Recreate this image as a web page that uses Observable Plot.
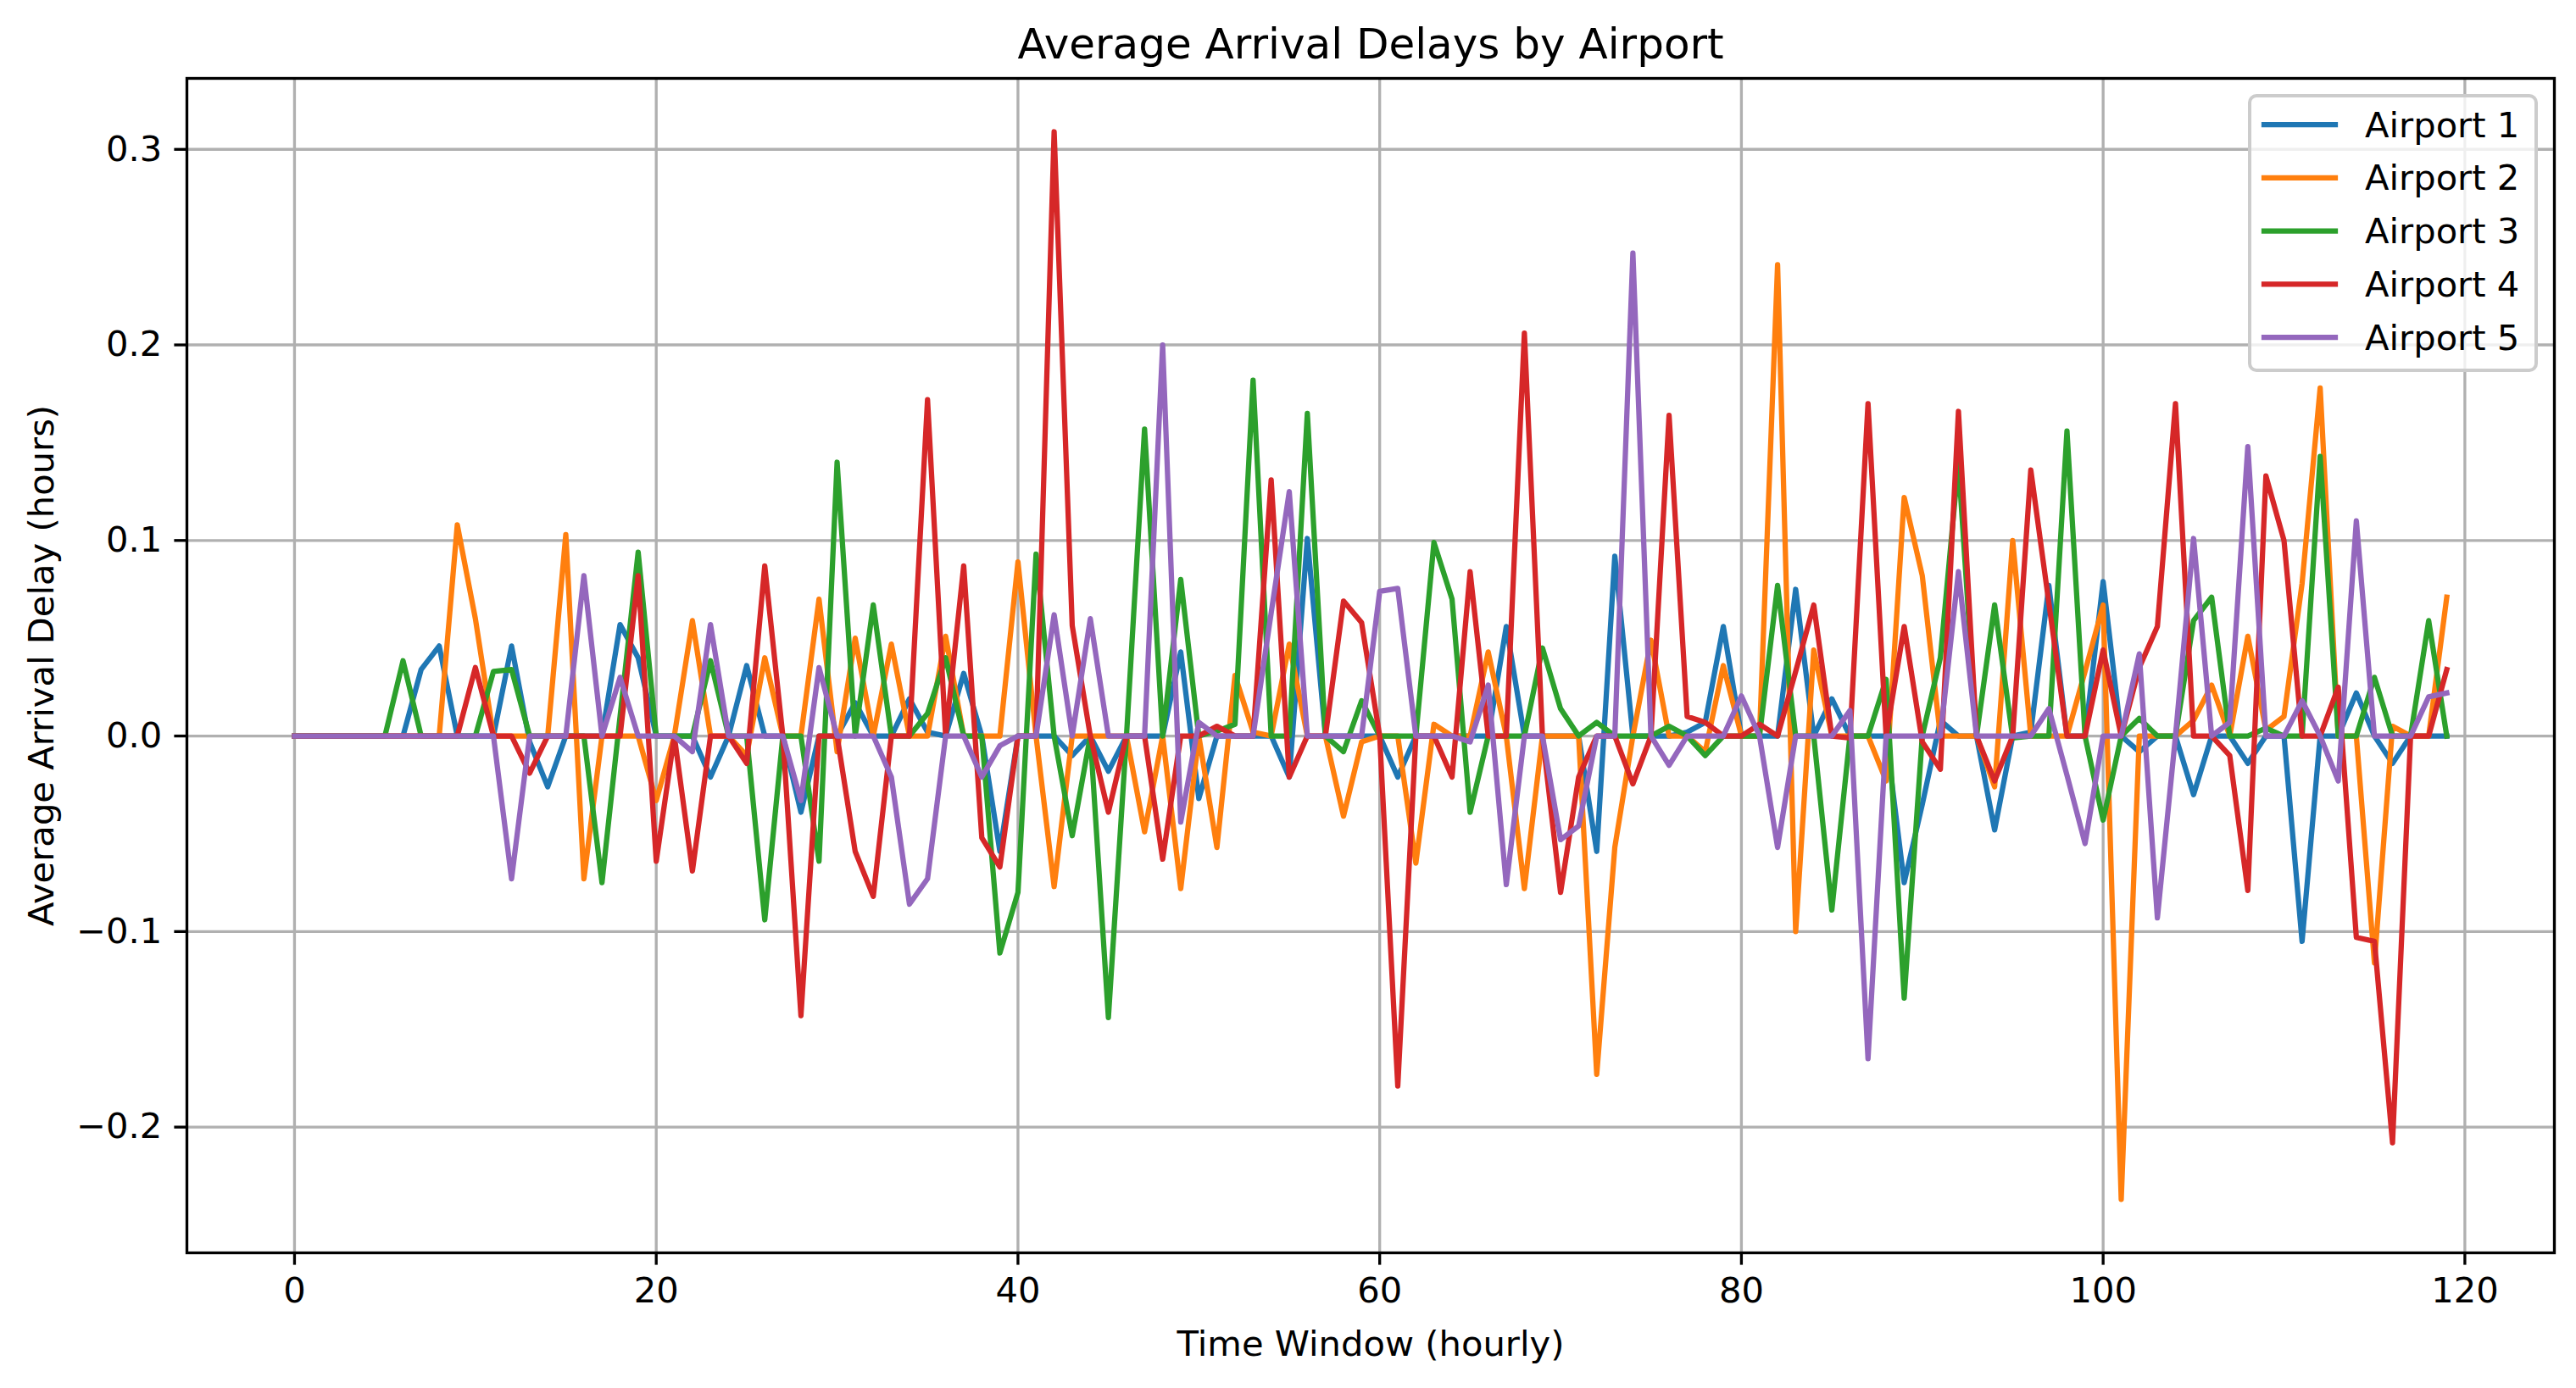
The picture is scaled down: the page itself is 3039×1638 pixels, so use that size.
<!DOCTYPE html>
<html>
<head>
<meta charset="utf-8">
<script src="https://cdn.jsdelivr.net/npm/d3@7"></script>
<script src="https://cdn.jsdelivr.net/npm/@observablehq/plot@0.6"></script>
<style>
  html, body { margin: 0; padding: 0; background: white; }
  #chart svg { display: block; }
</style>
</head>
<body>
<div id="chart"></div>
<script>
// Hourly time windows 0..119
const hours = d3.range(120);

const airportNames = ["Airport 1", "Airport 2", "Airport 3", "Airport 4", "Airport 5"];
const airportColors = ["#1f77b4", "#ff7f0e", "#2ca02c", "#d62728", "#9467bd"];

// Average arrival delay (hours) per time window
const airport1 = [
  0, 0, 0, 0, 0, 0, 0, 0.034, 0.046, 0,
  0, 0, 0.046, -0.003, -0.026, 0, 0, 0, 0.057, 0.040,
  0, 0, 0, -0.021, 0, 0.036, 0, 0, -0.039, 0,
  0, 0.017, 0, 0, 0.019, 0.002, 0, 0.032, 0, -0.059,
  0, 0, 0, -0.010, 0, -0.018, 0, 0, 0, 0.043,
  -0.032, 0, 0, 0, 0, -0.021, 0.101, 0, 0, 0,
  0, -0.021, 0, 0, 0, 0, 0, 0.056, 0, 0,
  0, 0, -0.059, 0.092, 0, 0, 0, 0.002, 0.007, 0.056,
  0, 0, 0, 0.075, 0, 0.019, 0, 0, 0, -0.075,
  -0.035, 0.008, 0, 0, -0.048, 0, 0.002, 0.077, 0, 0,
  0.079, 0, -0.008, 0, 0, -0.030, 0, 0, -0.014, 0,
  0, -0.105, 0, 0, 0.022, 0, -0.014, 0, 0, 0
];
const airport2 = [
  0, 0, 0, 0, 0, 0, 0, 0, 0, 0.108,
  0.060, 0, 0, 0, 0, 0.103, -0.073, 0, 0, 0,
  -0.033, 0, 0.059, 0, 0, -0.010, 0.040, 0, 0, 0.070,
  -0.008, 0.050, 0, 0.047, 0, 0, 0.051, 0, 0, 0,
  0.089, 0, -0.077, 0, 0, 0, 0, -0.049, 0, -0.078,
  0, -0.057, 0.031, 0.002, 0, 0.047, 0, 0, -0.041, -0.003,
  0, 0, -0.065, 0.006, 0, 0, 0.043, 0, -0.078, 0,
  0, 0, -0.173, -0.057, 0, 0.049, 0, 0, -0.008, 0.036,
  0, 0, 0.241, -0.100, 0.044, 0, 0, 0, -0.023, 0.122,
  0.082, 0, 0, 0, -0.026, 0.100, 0, 0, 0, 0.033,
  0.067, -0.237, 0, 0, 0, 0.008, 0.026, 0, 0.051, 0.003,
  0.010, 0.078, 0.178, 0, 0, -0.116, 0.005, 0, 0, 0.071
];
const airport3 = [
  0, 0, 0, 0, 0, 0, 0.0385, 0, 0, 0,
  0, 0.033, 0.034, 0, 0, 0, 0, -0.075, 0.010, 0.094,
  0, 0, 0, 0.0385, 0, 0, -0.094, 0, 0, -0.064,
  0.140, 0, 0.067, 0, 0, 0.0115, 0.040, 0, 0, -0.111,
  -0.080, 0.093, 0, -0.051, 0, -0.144, 0, 0.157, 0, 0.080,
  0, 0.0025, 0.006, 0.182, 0, 0, 0.165, 0, -0.008, 0.018,
  0, 0, 0, 0.099, 0.070, -0.039, 0, 0, 0, 0.045,
  0.014, 0, 0.007, 0, 0, 0, 0.005, 0, -0.010, 0,
  0, 0, 0.077, 0, 0, -0.089, 0, 0, 0.029, -0.134,
  0, 0.040, 0.140, 0, 0.067, -0.001, 0, 0, 0.156, 0,
  -0.043, 0, 0.009, 0, 0, 0.059, 0.071, 0, 0, 0.004,
  0, 0, 0.143, 0, 0, 0.030, 0, 0, 0.059, 0
];
const airport4 = [
  0, 0, 0, 0, 0, 0, 0, 0, 0, 0,
  0.035, 0, 0, -0.019, 0, 0, 0, 0, 0, 0.082,
  -0.064, 0, -0.069, 0, 0, -0.014, 0.087, 0, -0.143, 0,
  0, -0.059, -0.082, 0, 0, 0.172, 0, 0.087, -0.052, -0.067,
  0, 0, 0.309, 0.0565, 0, -0.039, 0, 0, -0.063, 0,
  0, 0.005, 0, 0, 0.131, -0.021, 0, 0, 0.069, 0.058,
  0, -0.179, 0, 0, -0.021, 0.084, 0, 0, 0.206, 0,
  -0.080, -0.021, 0, 0, -0.0245, 0, 0.164, 0.010, 0.007, 0,
  0, 0.006, 0, 0.033, 0.067, 0, -0.001, 0.170, 0, 0.056,
  -0.003, -0.017, 0.166, 0, -0.023, 0, 0.136, 0.068, 0, 0,
  0.044, 0, 0.035, 0.056, 0.170, 0, 0, -0.010, -0.079, 0.133,
  0.100, 0, 0, 0.025, -0.103, -0.105, -0.208, 0, 0, 0.034
];
const airport5 = [
  0, 0, 0, 0, 0, 0, 0, 0, 0, 0,
  0, 0, -0.073, 0, 0, 0, 0.082, 0, 0.030, 0,
  0, 0, -0.008, 0.057, 0, 0, 0, 0, -0.033, 0.035,
  0, 0, 0, -0.021, -0.086, -0.073, 0, 0, -0.021, -0.005,
  0, 0, 0.062, 0, 0.060, 0, 0, 0, 0.200, -0.044,
  0.007, 0, 0, 0, 0.063, 0.125, 0, 0, 0, 0,
  0.074, 0.0755, 0, 0, 0, -0.003, 0.026, -0.076, 0, 0,
  -0.053, -0.046, 0, 0, 0.247, 0, -0.015, 0, 0, 0,
  0.0205, 0, -0.057, 0, 0, 0, 0.013, -0.165, 0, 0,
  0, 0, 0.084, 0, 0, 0, 0, 0.014, -0.020, -0.055,
  0, 0, 0.042, -0.093, 0, 0.101, 0, 0.007, 0.148, 0,
  0, 0.018, 0, -0.023, 0.110, 0, 0, 0, 0.020, 0.022
];

const xTicks = [0, 20, 40, 60, 80, 100, 120];
const yTicks = [-0.2, -0.1, 0.0, 0.1, 0.2, 0.3];

const chartTitle = "Average Arrival Delays by Airport";
const xLabel = "Time Window (hourly)";
const yLabel = "Average Arrival Delay (hours)";

// Long-format table for the line mark
const seriesValues = [airport1, airport2, airport3, airport4, airport5];
const rows = airportNames.flatMap((name, k) =>
  seriesValues[k].map((v, i) => ({t: hours[i], delay: v, airport: name}))
);

// 5% padding around the data extent on both axes
function padded([lo, hi], frac = 0.05) {
  const m = (hi - lo) * frac;
  return [lo - m, hi + m];
}
const xDomain = padded(d3.extent(rows, d => d.t));
const yDomain = padded(d3.extent(rows, d => d.delay));

const FS = 41.67;       // 10pt text
const LW = 3.33;        // thin rule width
const TICK = 14.6;

const chart = Plot.plot({
  width: 3039,
  height: 1638,
  marginLeft: 220,
  marginRight: 26,
  marginTop: 92,
  marginBottom: 160,
  style: {fontFamily: "DejaVu Sans", fontSize: FS + "px", background: "white", color: "black"},
  x: {domain: xDomain, label: null},
  y: {domain: yDomain, label: null},
  color: {type: "ordinal", domain: airportNames, range: airportColors},
  marks: [
    Plot.gridX(xTicks, {stroke: "#b0b0b0", strokeOpacity: 1, strokeWidth: LW}),
    Plot.gridY(yTicks, {stroke: "#b0b0b0", strokeOpacity: 1, strokeWidth: LW}),
    Plot.line(rows, {
      x: "t", y: "delay", z: "airport", stroke: "airport",
      strokeWidth: 6.25, strokeLinejoin: "round", strokeLinecap: "square"
    }),
    Plot.frame({stroke: "black", strokeWidth: LW}),
    Plot.axisX(xTicks, {
      tickSize: TICK, tickPadding: TICK, strokeWidth: LW, label: null,
      fontSize: FS, tickFormat: d => String(d)
    }),
    Plot.axisY(yTicks, {
      tickSize: TICK, tickPadding: TICK, strokeWidth: LW, label: null,
      fontSize: FS, tickFormat: d3.format(".1f")
    }),
    Plot.text([chartTitle], {
      text: d => d, frameAnchor: "top", dy: -40, fontSize: 50,
      textAnchor: "middle", lineAnchor: "middle"
    }),
    Plot.text([xLabel], {
      text: d => d, frameAnchor: "bottom", dy: 108, fontSize: FS,
      textAnchor: "middle", lineAnchor: "middle"
    }),
    Plot.text([yLabel], {
      text: d => d, frameAnchor: "left", dx: -171, rotate: -90, fontSize: FS,
      textAnchor: "middle", lineAnchor: "middle"
    })
  ]
});

document.getElementById("chart").appendChild(chart);

// Legend box in the upper-right corner of the plot area
(function drawLegend() {
  const svg = d3.select(chart);
  const box = {x: 2654, y: 113, w: 338, h: 324};
  const rowY0 = 147, rowStep = 62.8;
  const g = svg.append("g").attr("class", "legend").attr("text-anchor", "start");
  g.append("rect")
    .attr("x", box.x).attr("y", box.y)
    .attr("width", box.w).attr("height", box.h)
    .attr("rx", 8).attr("ry", 8)
    .attr("fill", "white").attr("fill-opacity", 0.8)
    .attr("stroke", "#cccccc").attr("stroke-width", 4);
  airportNames.forEach((name, k) => {
    const y = rowY0 + k * rowStep;
    g.append("line")
      .attr("x1", 2671).attr("x2", 2755)
      .attr("y1", y).attr("y2", y)
      .attr("stroke", airportColors[k]).attr("stroke-width", 6.25)
      .attr("stroke-linecap", "square");
    g.append("text")
      .attr("x", 2790).attr("y", y)
      .attr("dy", "0.35em")
      .attr("text-anchor", "start")
      .attr("font-family", "DejaVu Sans")
      .attr("font-size", FS)
      .attr("fill", "black")
      .text(name);
  });
})();
</script>
</body>
</html>
